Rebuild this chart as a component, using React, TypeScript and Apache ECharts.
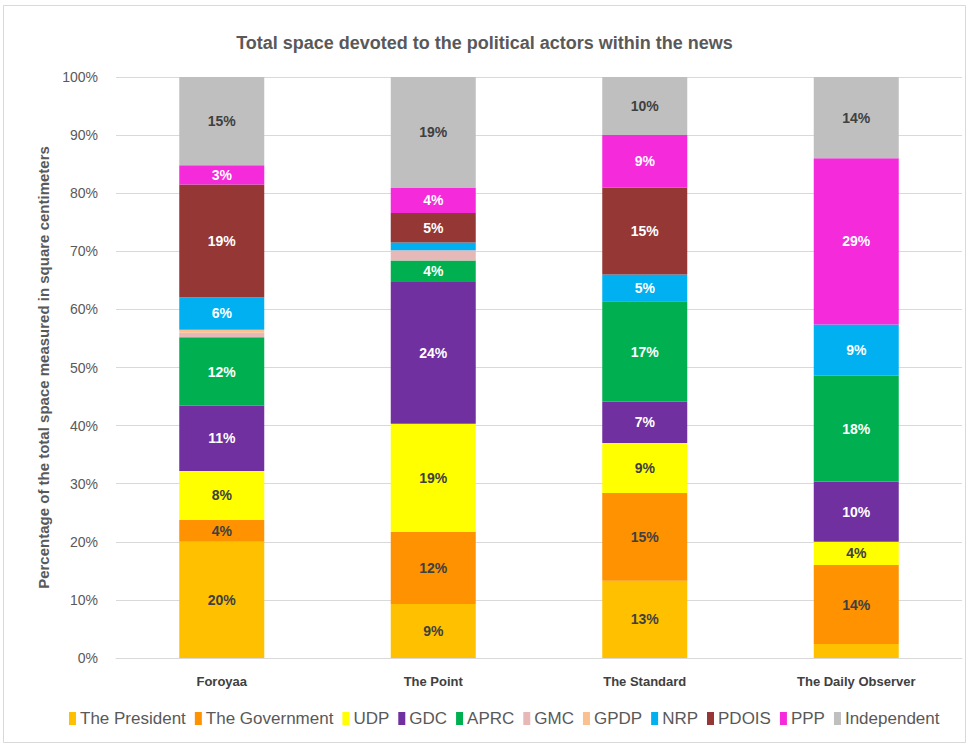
import React, { useEffect, useRef } from 'react';
import * as echarts from 'echarts';

const categories = ['Foroyaa', 'The Point', 'The Standard', 'The Daily Observer'];
const seriesNames = ['The President', 'The Government', 'UDP', 'GDC', 'APRC', 'GMC', 'GPDP', 'NRP', 'PDOIS', 'PPP', 'Independent'];
const president = [20.0, 9.3, 13.3, 2.4];
const government = [3.8, 12.4, 15.1, 13.6];
const udp = [8.4, 18.6, 8.6, 4.0];
const gdc = [11.2, 24.4, 7.1, 10.4];
const aprc = [11.8, 3.7, 17.3, 18.2];
const gmc = [0.8, 1.8, 0, 0];
const gpdp = [0.5, 0, 0, 0];
const nrp = [5.6, 1.3, 4.6, 8.8];
const pdois = [19.4, 5.1, 15.0, 0];
const ppp = [3.3, 4.3, 9.0, 28.6];
const independent = [15.2, 19.1, 10.0, 14.0];
const yTicks = [0, 10, 20, 30, 40, 50, 60, 70, 80, 90, 100];

const seriesData = [president, government, udp, gdc, aprc, gmc, gpdp, nrp, pdois, ppp, independent];
const colors = ['#FFC000', '#FF9200', '#FFFF00', '#7030A0', '#00B050', '#E6B9B8', '#FAC090', '#00B0F0', '#953735', '#F42ADB', '#BFBFBF'];
const labelColors = ['#404040', '#404040', '#404040', '#ffffff', '#ffffff', '#ffffff', '#ffffff', '#ffffff', '#ffffff', '#ffffff', '#404040'];

const FONT = "'Liberation Sans', Arial, sans-serif";

export default function App() {
  const ref = useRef<HTMLDivElement>(null);
  useEffect(() => {
    if (!ref.current) return;
    const chart = echarts.init(ref.current, null, { renderer: 'svg' });
    chart.setOption({
      animation: false,
      backgroundColor: '#ffffff',
      color: colors,
      textStyle: { fontFamily: FONT },
      title: {
        text: 'Total space devoted to the political actors within the news',
        left: 'center',
        top: 29,
        textStyle: { fontFamily: FONT, fontSize: 18, fontWeight: 'bold', color: '#595959' },
      },
      graphic: [
        {
          type: 'rect',
          shape: { x: 3.5, y: 5.5, width: 962, height: 737 },
          style: { fill: 'none', stroke: '#d9d9d9', lineWidth: 1 },
          silent: true,
        },
      ],
      grid: { left: 116, right: 7, top: 77, bottom: 89, containLabel: false },
      legend: {
        data: seriesNames,
        left: 64,
        top: 705,
        itemWidth: 7,
        itemHeight: 13,
        itemGap: 9,
        icon: 'rect',
        textStyle: { fontFamily: FONT, fontSize: 17, color: '#595959', padding: [0, 0, 0, -1] },
      },
      xAxis: {
        type: 'category',
        data: categories,
        axisLine: { show: true, lineStyle: { color: '#d9d9d9', width: 1 } },
        axisTick: { show: false },
        axisLabel: { fontFamily: FONT, fontSize: 13, fontWeight: 'bold', color: '#404040', margin: 17 },
      },
      yAxis: {
        type: 'value',
        min: 0,
        max: 100,
        interval: 10,
        name: 'Percentage of the total space measured in square centimeters',
        nameLocation: 'middle',
        nameGap: 64,
        nameTextStyle: { fontFamily: FONT, fontSize: 15, fontWeight: 'bold', color: '#595959' },
        axisLine: { show: false },
        axisTick: { show: false },
        axisLabel: {
          fontFamily: FONT,
          fontSize: 14,
          color: '#595959',
          margin: 18,
          formatter: (v: number) => (yTicks.includes(v) ? v + '%' : ''),
        },
        splitLine: { lineStyle: { color: '#d9d9d9', width: 1 } },
      },
      series: seriesNames.map((name, i) => ({
        name,
        type: 'bar',
        stack: 'total',
        barWidth: 85,
        data: seriesData[i],
        itemStyle: { color: colors[i] },
        label: {
          show: true,
          position: 'inside',
          fontFamily: FONT,
          fontSize: 14,
          fontWeight: 'bold',
          color: labelColors[i],
          formatter: (p: any) => (p.value >= 3 ? Math.round(p.value) + '%' : ''),
        },
      })),
    });
    return () => chart.dispose();
  }, []);
  return <div ref={ref} style={{ position: 'fixed', left: 0, top: 0, width: 969, height: 747 }} />;
}
